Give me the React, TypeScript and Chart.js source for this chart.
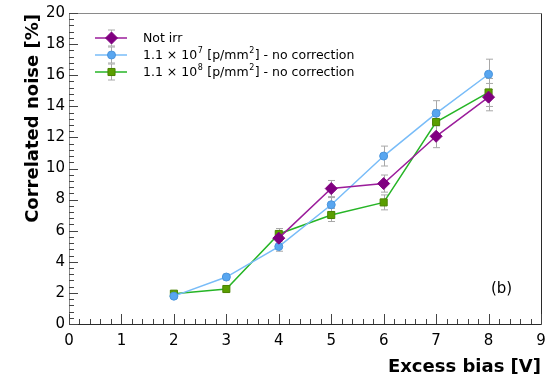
import React, { useEffect, useRef } from "react";
import { Chart, registerables } from "chart.js";

Chart.register(...registerables);

// Excess bias [V] and correlated noise [%] for each sample
const biasNotIrr = [4, 5, 6, 7, 8];
const noiseNotIrr = [5.52, 8.71, 9.03, 12.07, 14.59];
const errNotIrr = [0.35, 0.52, 0.55, 0.73, 0.88];

const biasLow = [2, 3, 4, 5, 6, 7, 8];
const noiseLow = [1.79, 3.02, 4.98, 7.67, 10.8, 13.55, 16.06];
const errLow = [0.11, 0.18, 0.3, 0.46, 0.64, 0.81, 0.97];

const biasHigh = [2, 3, 4, 5, 6, 7, 8];
const noiseHigh = [1.95, 2.25, 5.79, 7.01, 7.82, 12.99, 14.89];
const errHigh = [0.12, 0.14, 0.35, 0.42, 0.48, 0.78, 0.9];

const seriesNames = [
  "Not irr",
  "1.1 × 10^7 [p/mm^2] - no correction",
  "1.1 × 10^8 [p/mm^2] - no correction",
];

const xTitle = "Excess bias [V]";
const yTitle = "Correlated noise [%]";
const panelTag = "(b)";

const FONT = "'DejaVu Sans', sans-serif";

const styles = [
  { line: "#9b1d9b", fill: "#800080", border: "#800080", shape: "rectRot", r: 6 },
  { line: "#78bcf8", fill: "#58a6f0", border: "#4a94dc", shape: "circle", r: 4 },
  { line: "#26b526", fill: "#5a9e00", border: "#4a8200", shape: "rect", r: 5 },
];

const series = [
  { x: biasNotIrr, y: noiseNotIrr, e: errNotIrr },
  { x: biasLow, y: noiseLow, e: errLow },
  { x: biasHigh, y: noiseHigh, e: errHigh },
];

function drawErrorBar(ctx: CanvasRenderingContext2D, x: number, y1: number, y2: number) {
  ctx.beginPath();
  ctx.moveTo(x, y1);
  ctx.lineTo(x, y2);
  ctx.moveTo(x - 3.5, y1);
  ctx.lineTo(x + 3.5, y1);
  ctx.moveTo(x - 3.5, y2);
  ctx.lineTo(x + 3.5, y2);
  ctx.stroke();
}

// draws text where "^c" puts the single character c in superscript
function drawRichText(ctx: CanvasRenderingContext2D, text: string, x: number, y: number, size: number) {
  let cx = x;
  let i = 0;
  while (i < text.length) {
    if (text[i] === "^" && i + 1 < text.length) {
      ctx.font = `${Math.round(size * 0.65)}px ${FONT}`;
      ctx.fillText(text[i + 1], cx + 0.5, y - size * 0.42);
      cx += ctx.measureText(text[i + 1]).width + 1;
      i += 2;
    } else {
      let j = i;
      while (j < text.length && text[j] !== "^") j++;
      const part = text.slice(i, j);
      ctx.font = `${size}px ${FONT}`;
      ctx.fillText(part, cx, y);
      cx += ctx.measureText(part).width;
      i = j;
    }
  }
}

const decorations = {
  id: "decorations",
  beforeDatasetsDraw(chart: any) {
    const ctx = chart.ctx as CanvasRenderingContext2D;
    const xs = chart.scales.x;
    const ys = chart.scales.y;
    ctx.save();
    ctx.strokeStyle = "#a8a8a8";
    ctx.lineWidth = 1;
    series.forEach((s) => {
      s.x.forEach((xv, k) => {
        const px = Math.round(xs.getPixelForValue(xv)) + 0.5;
        drawErrorBar(ctx, px, ys.getPixelForValue(s.y[k] + s.e[k]), ys.getPixelForValue(s.y[k] - s.e[k]));
      });
    });
    ctx.restore();
  },
  afterDraw(chart: any) {
    const ctx = chart.ctx as CanvasRenderingContext2D;
    const { left, right, top, bottom } = chart.chartArea;
    const xs = chart.scales.x;
    const ys = chart.scales.y;
    ctx.save();

    // frame
    ctx.lineWidth = 1;
    ctx.strokeStyle = "#8a8a8a";
    ctx.beginPath();
    ctx.moveTo(left + 0.5, bottom + 0.5);
    ctx.lineTo(left + 0.5, top + 0.5);
    ctx.lineTo(right + 0.5, top + 0.5);
    ctx.stroke();
    ctx.strokeStyle = "#2a2a2a";
    ctx.beginPath();
    ctx.moveTo(right + 0.5, top + 0.5);
    ctx.lineTo(right + 0.5, bottom + 0.5);
    ctx.lineTo(left + 0.5, bottom + 0.5);
    ctx.stroke();

    // tick marks
    ctx.strokeStyle = "#444";
    ctx.beginPath();
    for (let k = 0; k <= 45; k++) {
      const px = Math.round(xs.getPixelForValue(k * 0.2)) + 0.5;
      const len = k % 5 === 0 ? 10 : 5;
      ctx.moveTo(px, bottom);
      ctx.lineTo(px, bottom - len);
    }
    for (let k = 0; k <= 50; k++) {
      const py = Math.round(ys.getPixelForValue(k * 0.4)) + 0.5;
      const len = k % 5 === 0 ? 9 : 5;
      ctx.moveTo(left, py);
      ctx.lineTo(left + len, py);
    }
    ctx.stroke();

    // axis titles
    ctx.fillStyle = "#000";
    ctx.font = `bold 18px ${FONT}`;
    ctx.textAlign = "right";
    ctx.textBaseline = "alphabetic";
    ctx.fillText(xTitle, right, 372);
    ctx.save();
    ctx.translate(38, top + 1);
    ctx.rotate(-Math.PI / 2);
    ctx.fillText(yTitle, 0, 0);
    ctx.restore();

    // panel tag
    ctx.textAlign = "left";
    ctx.font = `15px ${FONT}`;
    ctx.fillText(panelTag, 491, 293);

    // legend
    const rows = [38, 55, 72];
    rows.forEach((ry, k) => {
      const st = styles[k];
      ctx.strokeStyle = "#a8a8a8";
      ctx.lineWidth = 1;
      drawErrorBar(ctx, 111.5, ry - 8, ry + 8);
      ctx.strokeStyle = st.line;
      ctx.lineWidth = 1.5;
      ctx.beginPath();
      ctx.moveTo(95, ry);
      ctx.lineTo(127, ry);
      ctx.stroke();
      ctx.fillStyle = st.fill;
      ctx.strokeStyle = st.border;
      ctx.lineWidth = 1;
      ctx.beginPath();
      if (st.shape === "circle") {
        ctx.arc(111.5, ry, st.r, 0, Math.PI * 2);
      } else if (st.shape === "rect") {
        const h = st.r * Math.SQRT1_2;
        ctx.rect(111.5 - h, ry - h, 2 * h, 2 * h);
      } else {
        ctx.moveTo(111.5 - st.r, ry);
        ctx.lineTo(111.5, ry - st.r);
        ctx.lineTo(111.5 + st.r, ry);
        ctx.lineTo(111.5, ry + st.r);
        ctx.closePath();
      }
      ctx.fill();
      ctx.stroke();
      ctx.fillStyle = "#000";
      ctx.textBaseline = "middle";
      drawRichText(ctx, seriesNames[k], 143, ry + 1, 12.5);
    });

    ctx.restore();
  },
};

export default function App() {
  const canvasRef = useRef<HTMLCanvasElement | null>(null);

  useEffect(() => {
    document.body.style.margin = "0";
    const canvas = canvasRef.current;
    if (!canvas) return;

    const datasets = series.map((s, k) => ({
      label: seriesNames[k],
      data: s.x.map((xv, i) => ({ x: xv, y: s.y[i] })),
      borderColor: styles[k].line,
      backgroundColor: styles[k].fill,
      pointBackgroundColor: styles[k].fill,
      pointBorderColor: styles[k].border,
      pointBorderWidth: 1,
      pointStyle: styles[k].shape as any,
      pointRadius: styles[k].r,
      borderWidth: 1.5,
      tension: 0,
      showLine: true,
    }));

    const chart = new Chart(canvas, {
      type: "scatter",
      data: { datasets },
      options: {
        animation: false,
        responsive: false,
        devicePixelRatio: 1,
        layout: { padding: { top: 11, right: 13, left: 0, bottom: 0 } },
        plugins: {
          legend: { display: false },
          tooltip: { enabled: false },
        },
        scales: {
          x: {
            type: "linear",
            min: 0,
            max: 9,
            ticks: {
              stepSize: 1,
              color: "#000",
              font: { family: FONT, size: 15 },
              padding: 8,
              maxRotation: 0,
            },
            grid: { display: false, drawTicks: false },
            border: { display: false },
            afterFit: (s: any) => {
              s.height = 56;
            },
          },
          y: {
            type: "linear",
            min: 0,
            max: 20,
            ticks: {
              stepSize: 2,
              color: "#000",
              font: { family: FONT, size: 15 },
              padding: 4,
            },
            grid: { display: false, drawTicks: false },
            border: { display: false },
            afterFit: (s: any) => {
              s.width = 69;
            },
          },
        },
      },
      plugins: [decorations],
    });

    return () => chart.destroy();
  }, []);

  return (
    <div style={{ position: "absolute", left: 0, top: 0, width: 554, height: 380, background: "#fff" }}>
      <canvas ref={canvasRef} width={554} height={380} />
    </div>
  );
}
